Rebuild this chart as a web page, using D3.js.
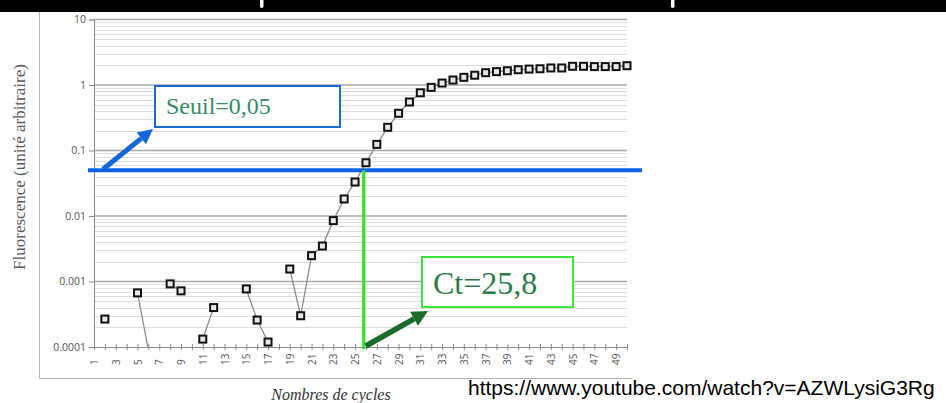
<!DOCTYPE html>
<html>
<head>
<meta charset="utf-8">
<script src="https://cdn.jsdelivr.net/npm/d3@7"></script>
<style>
  body { margin: 0; background: #fff; }
  svg { display: block; }
</style>
</head>
<body>
<svg id="chart" width="946" height="403"></svg>
<script>
// qPCR amplification curve: fluorescence (log scale) against cycle number
const cycles = [1, 2, 3, 4, 5, 6, 7, 8, 9, 10, 11, 12, 13, 14, 15, 16, 17, 18, 19, 20,
  21, 22, 23, 24, 25, 26, 27, 28, 29, 30, 31, 32, 33, 34, 35, 36, 37, 38, 39, 40,
  41, 42, 43, 44, 45, 46, 47, 48, 49, 50];

// null = no reading for that cycle
const fluorescence = [null, 0.000267, null, null, 0.00067, 0.00009, null, 0.00092, 0.00072, null,
  0.000132, 0.0004, null, null, 0.00077, 0.000258, 0.000119, null, 0.00155, 0.0003,
  0.00248, 0.00348, 0.0085, 0.0182, 0.033, 0.065, 0.124, 0.226, 0.37, 0.55,
  0.76, 0.92, 1.07, 1.19, 1.31, 1.41, 1.54, 1.6, 1.65, 1.71,
  1.75, 1.77, 1.82, 1.82, 1.93, 1.93, 1.91, 1.91, 1.91, 1.97];

const yTickValues = [0.0001, 0.001, 0.01, 0.1, 1, 10];
const yTickLabels = ["0.0001", "0.001", "0.01", "0.1", "1", "10"];
const xTickLabels = ["1", "3", "5", "7", "9", "11", "13", "15", "17", "19", "21", "23", "25",
  "27", "29", "31", "33", "35", "37", "39", "41", "43", "45", "47", "49"];

const threshold = [0.05];   // Seuil
const ctValue = [25.8];     // Ct

const svg = d3.select("#chart");

const x = d3.scaleLinear().domain([1, 50]).range([94, 627]);
const y = d3.scaleLog().domain([0.0001, 10]).range([347, 19.5]);

// video-player strip across the top
svg.append("rect").attr("x", 0).attr("y", 0).attr("width", 946).attr("height", 12).attr("fill", "#000");
[260, 671].forEach(px => {
  svg.append("rect").attr("x", px).attr("y", -3).attr("width", 3.5).attr("height", 11)
    .attr("rx", 1.7).attr("fill", "#fff");
});

// outer frame (left and bottom edges)
svg.append("path")
  .attr("d", "M39.5,12 V378.5 H632")
  .attr("fill", "none").attr("stroke", "#b4b4b4").attr("stroke-width", 1);

// minor gridlines (2..9 within each decade)
const minorVals = [];
yTickValues.slice(0, -1).forEach(d => { for (let k = 2; k <= 9; k++) minorVals.push(d * k); });
svg.append("g").selectAll("line").data(minorVals).join("line")
  .attr("x1", x(1)).attr("x2", x(50))
  .attr("y1", d => Math.round(y(d)) + 0.5).attr("y2", d => Math.round(y(d)) + 0.5)
  .attr("stroke", "#dedede").attr("stroke-width", 1);

// major gridlines
svg.append("g").selectAll("line").data(yTickValues.slice(1)).join("line")
  .attr("x1", x(1)).attr("x2", x(50))
  .attr("y1", d => y(d)).attr("y2", d => y(d))
  .attr("stroke", "#a8a8a8").attr("stroke-width", 1.6);

// y axis
const yAxis = svg.append("g")
  .attr("transform", `translate(${x(1)},0)`)
  .call(d3.axisLeft(y).tickValues(yTickValues)
    .tickFormat((d, i) => yTickLabels[i]).tickSize(5).tickPadding(3));
yAxis.select(".domain").attr("stroke", "#8a8a8a");
yAxis.selectAll(".tick line").attr("stroke", "#8a8a8a");
yAxis.selectAll(".tick text")
  .attr("fill", "#555").style("font-family", "'Open Sans', 'Noto Sans', sans-serif").style("font-size", "10.5px");

// x axis: a tick on every cycle, labels on odd cycles
const xAxis = svg.append("g")
  .attr("transform", `translate(0,${y(0.0001)})`)
  .call(d3.axisBottom(x).tickValues(cycles)
    .tickFormat(d => xTickLabels.includes(String(d)) ? String(d) : "").tickSize(3));
xAxis.select(".domain").attr("stroke", "#8a8a8a");
xAxis.selectAll(".tick line").attr("y1", -3).attr("y2", 3).attr("stroke", "#8a8a8a");
xAxis.selectAll(".tick text")
  .attr("transform", "rotate(-90)")
  .attr("text-anchor", "start")
  .attr("x", -18).attr("y", 0).attr("dy", "0.35em")
  .attr("fill", "#555").style("font-family", "'Open Sans', 'Noto Sans', sans-serif").style("font-size", "10px");

// plot clip
svg.append("clipPath").attr("id", "plotClip")
  .append("rect").attr("x", x(1) - 6).attr("y", y(10) - 6)
  .attr("width", x(50) - x(1) + 12).attr("height", y(0.0001) - y(10) + 6);

const series = cycles.map((c, i) => ({ c, v: fluorescence[i] }));

// connecting line (breaks where a cycle has no reading)
const line = d3.line()
  .defined(d => d.v !== null)
  .x(d => x(d.c)).y(d => y(d.v));
svg.append("path")
  .attr("clip-path", "url(#plotClip)")
  .datum(series)
  .attr("d", line)
  .attr("fill", "none").attr("stroke", "#8c8c8c").attr("stroke-width", 1.3);

// square markers
svg.append("g").selectAll("rect")
  .data(series.filter(d => d.v !== null && d.v >= 0.0001))
  .join("rect")
  .attr("x", d => x(d.c) - 3.5).attr("y", d => y(d.v) - 3.5)
  .attr("width", 7).attr("height", 7)
  .attr("fill", "#e8e8e8").attr("stroke", "#111").attr("stroke-width", 2);

// threshold line
const yThr = y(threshold[0]);
svg.append("line")
  .attr("x1", 88).attr("x2", 642)
  .attr("y1", yThr).attr("y2", yThr)
  .attr("stroke", "#0f62e6").attr("stroke-width", 4);

// Ct vertical line
const xCt = x(ctValue[0]);
svg.append("line")
  .attr("x1", xCt).attr("x2", xCt)
  .attr("y1", yThr).attr("y2", y(0.0001) + 2)
  .attr("stroke", "#2fe22f").attr("stroke-width", 3.2);

// arrow helper
function arrow(x0, y0, x1, y1, color, shaft, headLen, headW) {
  const ang = Math.atan2(y1 - y0, x1 - x0);
  const bx = x1 - headLen * Math.cos(ang), by = y1 - headLen * Math.sin(ang);
  svg.append("line")
    .attr("x1", x0).attr("y1", y0).attr("x2", bx).attr("y2", by)
    .attr("stroke", color).attr("stroke-width", shaft);
  const px = -Math.sin(ang) * headW / 2, py = Math.cos(ang) * headW / 2;
  svg.append("path")
    .attr("d", `M${x1},${y1} L${bx + px},${by + py} L${bx - px},${by - py} Z`)
    .attr("fill", color);
}

// Seuil callout
svg.append("rect")
  .attr("x", 155).attr("y", 86).attr("width", 185).attr("height", 41)
  .attr("fill", "#fff").attr("stroke", "#1a6bd0").attr("stroke-width", 2);
svg.append("text")
  .attr("x", 166).attr("y", 114)
  .attr("fill", "#378a6a")
  .style("font-family", "'Liberation Serif', 'Times New Roman', serif").style("font-size", "24px")
  .text("Seuil=0,05");
arrow(103, yThr - 1, 153, 129, "#1466d6", 5, 15, 15);

// Ct callout
svg.append("rect")
  .attr("x", 422).attr("y", 257).attr("width", 151).attr("height", 50)
  .attr("fill", "#fff").attr("stroke", "#3ae63a").attr("stroke-width", 2);
svg.append("text")
  .attr("x", 433).attr("y", 294)
  .attr("fill", "#2c7c46")
  .style("font-family", "'Liberation Serif', 'Times New Roman', serif").style("font-size", "32px")
  .text("Ct=25,8");
arrow(xCt + 2, y(0.0001) - 1, 428, 311, "#1b6b2a", 5.5, 16, 16);

// axis titles
svg.append("text")
  .attr("transform", "translate(25,167) rotate(-90)")
  .attr("text-anchor", "middle")
  .attr("fill", "#5a5a5a")
  .style("font-family", "'Liberation Serif', 'Times New Roman', serif").style("font-size", "17px")
  .text("Fluorescence (unité arbitraire)");

svg.append("text")
  .attr("x", 331).attr("y", 400)
  .attr("text-anchor", "middle")
  .attr("fill", "#333")
  .style("font-family", "'Liberation Serif', 'Times New Roman', serif").style("font-size", "16px")
  .style("font-style", "italic")
  .text("Nombres de cycles");

// source link
svg.append("text")
  .attr("x", 468).attr("y", 395)
  .attr("fill", "#000")
  .style("font-family", "'Liberation Sans', Arial, sans-serif").style("font-size", "21px")
  .text("https://www.youtube.com/watch?v=AZWLysiG3Rg");
</script>
</body>
</html>
